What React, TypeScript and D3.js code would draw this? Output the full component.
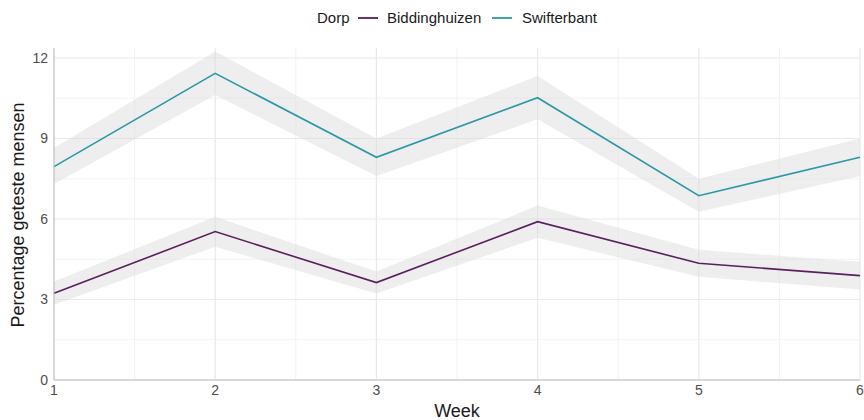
import React from "react";
import * as d3 from "d3";

const weeks = [1, 2, 3, 4, 5, 6];
const biddinghuizen = [3.23, 5.53, 3.63, 5.9, 4.35, 3.89];
const biddinghuizenLow = [2.8, 4.97, 3.22, 5.3, 3.85, 3.37];
const biddinghuizenHigh = [3.67, 6.08, 4.04, 6.5, 4.85, 4.41];
const swifterbant = [7.95, 11.43, 8.3, 10.52, 6.87, 8.3];
const swifterbantLow = [7.3, 10.62, 7.6, 9.72, 6.27, 7.6];
const swifterbantHigh = [8.65, 12.24, 9.0, 11.33, 7.5, 9.0];
const yTicks = [0, 3, 6, 9, 12];
const yMinor = [1.5, 4.5, 7.5, 10.5];
const xMinor = [1.5, 2.5, 3.5, 4.5, 5.5];
const seriesNames = ["Biddinghuizen", "Swifterbant"];
const seriesColors = ["#5a1f5e", "#2a98a6"];

const W = 864;
const H = 420;
const FONT = "'Liberation Sans', Arial, sans-serif";

export default function App() {
  const x = d3.scaleLinear().domain([1, 6]).range([54, 860]);
  const y = d3.scaleLinear().domain([0, 12]).range([380, 58]);

  const series = [
    { name: seriesNames[0], color: seriesColors[0], v: biddinghuizen, lo: biddinghuizenLow, hi: biddinghuizenHigh },
    { name: seriesNames[1], color: seriesColors[1], v: swifterbant, lo: swifterbantLow, hi: swifterbantHigh },
  ];

  const line = d3.line<number>().x((_, i) => x(weeks[i])).y((d) => y(d));
  const area = (lo: number[], hi: number[]) =>
    d3
      .area<number>()
      .x((_, i) => x(weeks[i]))
      .y0((_, i) => y(lo[i]))
      .y1((_, i) => y(hi[i]))(weeks);

  const plotTop = 48;
  return (
    <svg
      width={W}
      height={H}
      style={{ position: "absolute", left: 0, top: 0, background: "#fff" }}
      fontFamily={FONT}
    >
      {/* minor grid */}
      {yMinor.map((t) => (
        <line key={"ym" + t} x1={54} x2={860} y1={y(t)} y2={y(t)} stroke="#f3f3f3" strokeWidth={1} />
      ))}
      {xMinor.map((t) => (
        <line key={"xm" + t} x1={x(t)} x2={x(t)} y1={plotTop} y2={380} stroke="#f3f3f3" strokeWidth={1} />
      ))}
      {/* major grid */}
      {yTicks.map((t) => (
        <line key={"y" + t} x1={54} x2={860} y1={y(t)} y2={y(t)} stroke="#e9e9e9" strokeWidth={1.2} />
      ))}
      {weeks.map((t) => (
        <line key={"x" + t} x1={x(t)} x2={x(t)} y1={plotTop} y2={380} stroke="#e9e9e9" strokeWidth={1.2} />
      ))}
      {/* ribbons */}
      {series.map((s) => (
        <path key={"a" + s.name} d={area(s.lo, s.hi) || ""} fill="#d9d9d9" fillOpacity={0.45} />
      ))}
      {/* lines */}
      {series.map((s) => (
        <path key={"l" + s.name} d={line(s.v) || ""} fill="none" stroke={s.color} strokeWidth={1.6} />
      ))}
      {/* axes */}
      <line x1={54} x2={54} y1={plotTop} y2={380} stroke="#bdbdbd" strokeWidth={1} />
      <line x1={54} x2={860} y1={380} y2={380} stroke="#bdbdbd" strokeWidth={1} />
      {yTicks.map((t) => (
        <text key={"yl" + t} x={48} y={y(t)} dy="0.35em" textAnchor="end" fontSize={14} fill="#4d4d4d">
          {t}
        </text>
      ))}
      {weeks.map((t) => (
        <text key={"xl" + t} x={x(t)} y={395} textAnchor="middle" fontSize={14} fill="#4d4d4d">
          {t}
        </text>
      ))}
      <text x={457} y={417} textAnchor="middle" fontSize={18} fill="#1a1a1a">
        Week
      </text>
      <text
        transform={`translate(24,${215}) rotate(-90)`}
        textAnchor="middle"
        fontSize={18}
        fill="#1a1a1a"
      >
        Percentage geteste mensen
      </text>
      {/* legend */}
      <text x={317} y={23} fontSize={15} fill="#1a1a1a">
        Dorp
      </text>
      <line x1={358} x2={378} y1={18} y2={18} stroke={seriesColors[0]} strokeWidth={1.8} />
      <text x={387} y={23} fontSize={15} fill="#1a1a1a">
        {seriesNames[0]}
      </text>
      <line x1={492} x2={512} y1={18} y2={18} stroke={seriesColors[1]} strokeWidth={1.8} />
      <text x={522} y={23} fontSize={15} fill="#1a1a1a">
        {seriesNames[1]}
      </text>
    </svg>
  );
}
